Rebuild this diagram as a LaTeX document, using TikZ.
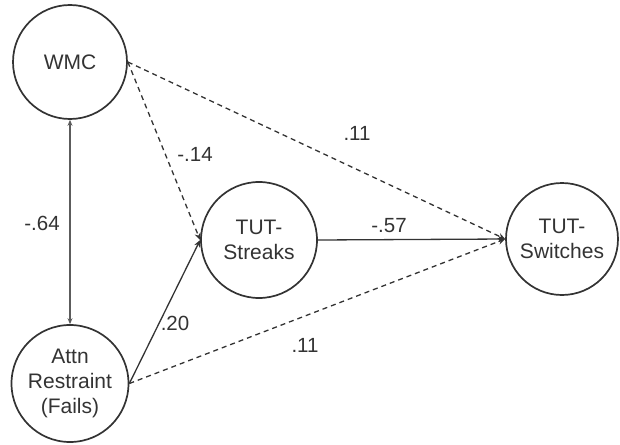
\documentclass[tikz,border=0pt]{standalone}
\usepackage{fontspec}
\setmainfont{Liberation Sans}
\usetikzlibrary{arrows.meta}
\definecolor{ink}{HTML}{333333}
\begin{document}
\begin{tikzpicture}[x=1pt,y=-1pt,
  latent/.style={circle,draw=ink,line width=1.7pt,inner sep=0pt,align=center,text=ink,font=\fontsize{21}{25}\selectfont},
  path/.style={draw=ink,line width=1.3pt,-{Stealth[length=7pt,width=6pt]}},
  dpath/.style={path,dash pattern=on 5pt off 4pt},
  coef/.style={text=ink,font=\fontsize{20.5}{24}\selectfont,inner sep=0pt}]
\useasboundingbox (0,0) rectangle (620,444);
\node[latent,minimum size=114pt] (wmc) at (70,62) {WMC};
\node[latent,minimum size=117pt] (attn) at (70,383.5) {Attn\\Restraint\\(Fails)};
\node[latent,minimum size=116pt] (str) at (259,240) {TUT-\\Streaks};
\node[latent,minimum size=112pt] (sw) at (562,239) {TUT-\\Switches};
\draw[path,draw=ink!80,line width=1.1pt,{Stealth[length=6pt,width=5pt]}-{Stealth[length=6pt,width=5pt]}] (wmc.south) -- (attn.north);
\draw[dpath] (wmc.east) -- (sw.west);
\draw[dpath] (wmc.east) -- (str.west);
\draw[path] (attn.east) -- (str.west);
\draw[dpath] (attn.east) -- (sw.west);
\draw[path] (str.east) -- (sw.west);
\node[coef] (l1) at (357,133) {.11};
\node[coef] (l2) at (195,154) {-.14};
\node[coef] (l3) at (42,223) {-.64};
\node[coef] (l4) at (389,226) {-.57};
\node[coef] (l5) at (175,323) {.20};
\node[coef] (l6) at (305,345) {.11};
\end{tikzpicture}
\end{document}
